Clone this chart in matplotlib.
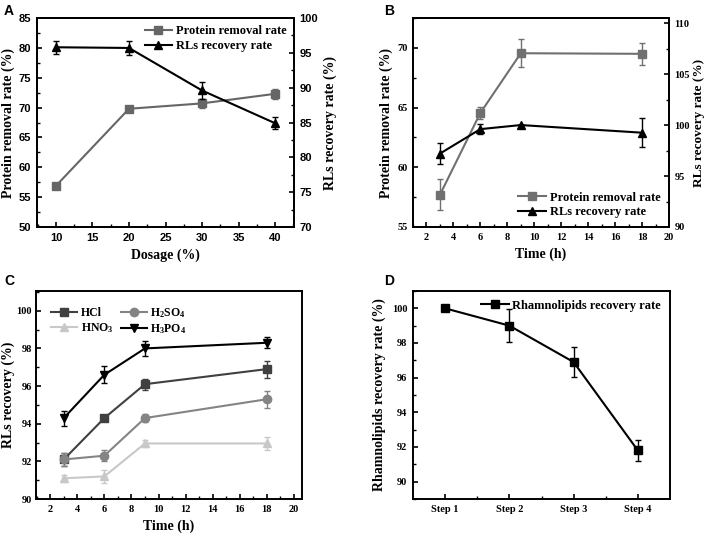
import matplotlib
matplotlib.use("Agg")
import matplotlib.pyplot as plt
from matplotlib.ticker import MultipleLocator, FixedLocator

# ---- data ----
dosage = [10, 20, 30, 40]
a_protein = [56.9, 69.8, 70.7, 72.3]
a_protein_err = [0.3, 0.3, 0.8, 0.8]
a_rls = [95.8, 95.7, 89.6, 84.9]
a_rls_err = [0.9, 1.0, 1.2, 0.9]

time_h = [3, 6, 9, 18]
b_protein = [57.7, 64.55, 69.55, 69.5]
b_protein_err = [1.3, 0.5, 1.15, 0.9]
b_rls = [97.2, 99.6, 100.0, 99.25]
b_rls_err = [1.05, 0.5, 0.0, 1.4]

hcl = [92.1, 94.3, 96.1, 96.9]
hcl_err = [0.35, 0.15, 0.3, 0.45]
h2so4 = [92.1, 92.3, 94.3, 95.3]
h2so4_err = [0.35, 0.3, 0.2, 0.45]
hno3 = [91.1, 91.2, 92.95, 92.95]
hno3_err = [0.2, 0.35, 0.2, 0.35]
h3po4 = [94.3, 96.6, 98.0, 98.3]
h3po4_err = [0.4, 0.45, 0.4, 0.3]

steps = ["Step 1", "Step 2", "Step 3", "Step 4"]
d_rec = [100.0, 99.0, 96.9, 91.8]
d_rec_err = [0.0, 0.95, 0.85, 0.6]

serif = "Liberation Serif"
sans = "Liberation Sans"
plt.rcParams["font.family"] = serif
plt.rcParams["font.weight"] = "bold"
plt.rcParams["axes.linewidth"] = 1.4
plt.rcParams["mathtext.fontset"] = "custom"
plt.rcParams["mathtext.rm"] = "Liberation Serif:bold"
plt.rcParams["mathtext.it"] = "Liberation Serif:bold"
plt.rcParams["mathtext.bf"] = "Liberation Serif:bold"
plt.rcParams["mathtext.default"] = "rm"

W, H = 708, 536
fig = plt.figure(figsize=(W / 100, H / 100), dpi=100)


def box(l, t, r, b):
    return [l / W, 1 - b / H, (r - l) / W, (b - t) / H]


def style(ax, tick_font=serif, size=7.5):
    ax.tick_params(which="both", direction="in", top=False, right=False)
    ax.tick_params(which="major", length=3.5, width=1.2, labelsize=size, pad=4)
    ax.tick_params(which="minor", length=2, width=1.0)
    for lab in ax.get_xticklabels() + ax.get_yticklabels():
        lab.set_fontfamily(tick_font)
        lab.set_fontweight("bold")


def right_axis(ax2, tick_font=serif, size=7.5):
    ax2.tick_params(which="both", direction="in", right=True, left=False)
    ax2.tick_params(which="major", length=3.5, width=1.2, labelsize=size, pad=4)
    ax2.tick_params(which="minor", length=2, width=1.0)
    for lab in ax2.get_yticklabels():
        lab.set_fontfamily(tick_font)
        lab.set_fontweight("bold")


eb = dict(capsize=2.5, elinewidth=1.0, capthick=1.0, lw=1.5, ms=6)
leg_prop = {"family": serif, "weight": "bold", "size": 9}

# ---- A ----
ax = fig.add_axes(box(37, 18, 294, 227))
ax2 = ax.twinx()
l1 = ax.errorbar(dosage, a_protein, yerr=a_protein_err, color="#666666", marker="s", **eb)
l2 = ax2.errorbar(dosage, a_rls, yerr=a_rls_err, color="black", marker="^", **eb)
ax.set_xlim(7.4, 42.6)
ax.set_ylim(50, 85)
ax2.set_ylim(70, 100)
ax.xaxis.set_major_locator(MultipleLocator(5))
ax.xaxis.set_minor_locator(MultipleLocator(2.5))
ax.yaxis.set_major_locator(MultipleLocator(5))
ax.yaxis.set_minor_locator(MultipleLocator(2.5))
ax2.yaxis.set_major_locator(MultipleLocator(5))
ax2.yaxis.set_minor_locator(MultipleLocator(2.5))
ax.set_xlabel("Dosage (%)", fontsize=10, fontweight="bold")
ax.set_ylabel("Protein removal rate (%)", fontsize=10, fontweight="bold", labelpad=3)
ax2.set_ylabel("RLs recovery rate (%)", fontsize=10, fontweight="bold", labelpad=4)
style(ax, tick_font=sans, size=8)
right_axis(ax2, tick_font=sans, size=8)
ax.legend([l1[0], l2[0]], ["Protein removal rate", "RLs recovery rate"], loc="upper right",
          frameon=False, handlelength=2.2, borderaxespad=0.2, labelspacing=0.2,
          handletextpad=0.3, prop=leg_prop)

# ---- B ----
ax = fig.add_axes(box(413, 18, 669, 227))
ax2 = ax.twinx()
l1 = ax.errorbar(time_h, b_protein, yerr=b_protein_err, color="#707070", marker="s", **eb)
l2 = ax2.errorbar(time_h, b_rls, yerr=b_rls_err, color="black", marker="^", **eb)
ax.set_xlim(1, 20)
ax.set_ylim(55, 72.5)
ax2.set_ylim(90, 110.5)
ax.xaxis.set_major_locator(MultipleLocator(2))
ax.xaxis.set_minor_locator(MultipleLocator(1))
ax.yaxis.set_major_locator(MultipleLocator(5))
ax.yaxis.set_minor_locator(MultipleLocator(2.5))
ax2.yaxis.set_major_locator(MultipleLocator(5))
ax2.yaxis.set_minor_locator(MultipleLocator(2.5))
ax.set_xlabel("Time (h)", fontsize=10, fontweight="bold")
ax.set_ylabel("Protein removal rate (%)", fontsize=10, fontweight="bold", labelpad=3)
ax2.set_ylabel("RLs recovery rate (%)", fontsize=9.5, fontweight="bold", labelpad=2)
style(ax)
right_axis(ax2)
ax.legend([l1[0], l2[0]], ["Protein removal rate", "RLs recovery rate"], loc="lower right",
          frameon=False, handlelength=2.2, borderaxespad=0.3, labelspacing=0.2,
          handletextpad=0.3, prop=leg_prop)

# ---- C ----
ax = fig.add_axes(box(36, 291, 302, 499))
h1 = ax.errorbar(time_h, hcl, yerr=hcl_err, color="#404040", marker="s", **eb)
h2 = ax.errorbar(time_h, h2so4, yerr=h2so4_err, color="#848484", marker="o", **eb)
h3 = ax.errorbar(time_h, hno3, yerr=hno3_err, color="#c8c8c8", marker="^", **eb)
h4 = ax.errorbar(time_h, h3po4, yerr=h3po4_err, color="black", marker="v", **eb)
ax.set_xlim(0.95, 20.6)
ax.set_ylim(90, 101.05)
ax.xaxis.set_major_locator(MultipleLocator(2))
ax.xaxis.set_minor_locator(MultipleLocator(1))
ax.yaxis.set_major_locator(MultipleLocator(2))
ax.yaxis.set_minor_locator(MultipleLocator(1))
ax.set_xlabel("Time (h)", fontsize=10, fontweight="bold")
ax.set_ylabel("RLs recovery (%)", fontsize=10, fontweight="bold", labelpad=1)
style(ax)
ax.tick_params(axis="y", pad=3)
ax.legend([h1[0], h3[0], h2[0], h4[0]], ["HCl", "HNO$_3$", "H$_2$SO$_4$", "H$_3$PO$_4$"],
          ncol=2, loc="upper left", frameon=False, handlelength=2.2, columnspacing=0.6,
          borderaxespad=0.9, labelspacing=0.15, handletextpad=0.3,
          prop={"family": serif, "weight": "bold", "size": 8.5})

# ---- D ----
ax = fig.add_axes(box(413, 291, 670, 499))
xs = list(range(1, len(steps) + 1))
d1 = ax.errorbar(xs, d_rec, yerr=d_rec_err, color="black", marker="s", **eb)
ax.set_xlim(0.5, 4.5)
ax.set_ylim(89, 101)
ax.xaxis.set_major_locator(FixedLocator(xs))
ax.set_xticklabels(steps)
ax.xaxis.set_minor_locator(FixedLocator([1.5, 2.5, 3.5]))
ax.yaxis.set_major_locator(MultipleLocator(2))
ax.yaxis.set_minor_locator(MultipleLocator(1))
ax.set_ylabel("Rhamnolipids recovery rate (%)", fontsize=10, fontweight="bold", labelpad=4)
style(ax)
ax.legend([d1[0]], ["Rhamnolipids recovery rate"], loc="upper right", frameon=False,
          handlelength=2.2, borderaxespad=0.3, handletextpad=0.3, prop=leg_prop)

for lbl, x, y in [("A", 4, 4), ("B", 384, 4), ("C", 4, 274), ("D", 384, 274)]:
    fig.text(x / W, 1 - y / H, lbl, fontfamily=sans, fontweight="bold", fontsize=10,
             va="top", ha="left")

fig.savefig("out.png", dpi=100)
